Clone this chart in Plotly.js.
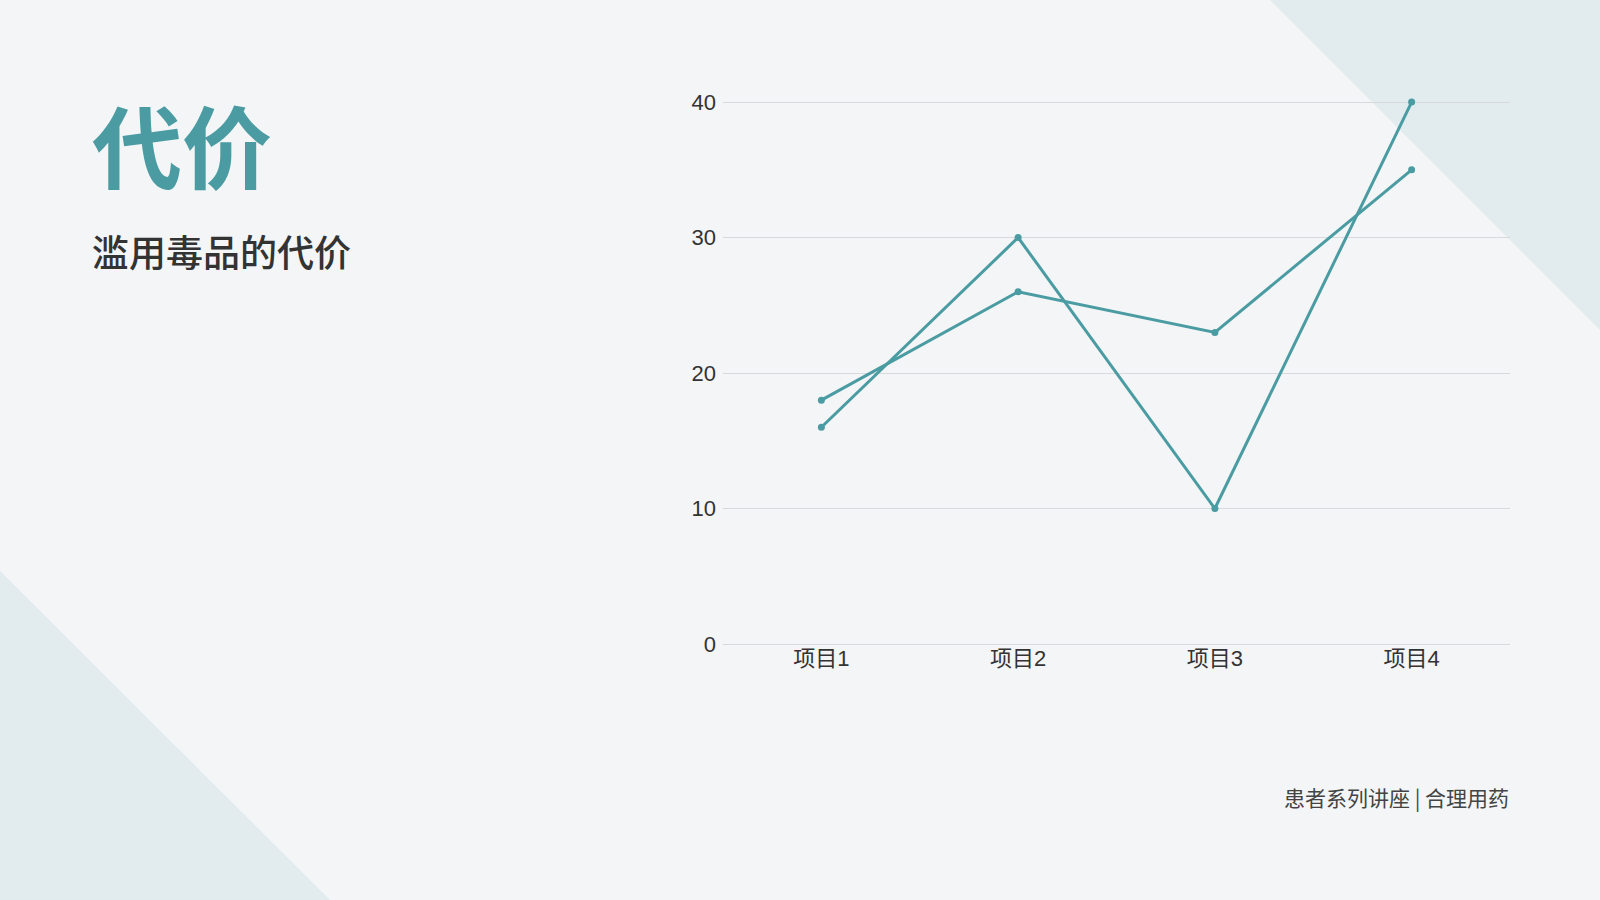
<!DOCTYPE html>
<html>
<head>
<meta charset="utf-8">
<script src="https://cdn.plot.ly/plotly-3.0.1.min.js"></script>
<style>
html,body{margin:0;padding:0;background:#F3F5F7;}
#chart{width:1600px;height:900px;}
</style>
</head>
<body>
<div id="chart"></div>
<script>
// ---- data ----
const categories = ["项目1", "项目2", "项目3", "项目4"];
const seriesA = [18, 26, 23, 35];
const seriesB = [16, 30, 10, 40];
const yTicks = [0, 10, 20, 30, 40];
const titleText = "代价";
const subtitleText = "滥用毒品的代价";
const footerText = "患者系列讲座 | 合理用药";

// ---- layout helpers (pixel -> paper) ----
const W = 1600, H = 900;
const L = 723, R = 1510, T = 75, B = 644;
const fx = px => (px - L) / (R - L);
const fy = py => (B - py) / (B - T);

const teal = "#4A9CA2";
const tri = "#E2ECEE";

function triPath(pts) {
  return "M" + pts.map(p => fx(p[0]) + "," + fy(p[1])).join(" L") + " Z";
}

const lineStyle = {color: teal, width: 3};
const markerStyle = {color: teal, size: 7};

const traces = [
  {x: categories, y: seriesA, type: "scatter", mode: "lines+markers",
   line: lineStyle, marker: markerStyle, cliponaxis: false, hoverinfo: "skip"},
  {x: categories, y: seriesB, type: "scatter", mode: "lines+markers",
   line: lineStyle, marker: markerStyle, cliponaxis: false, hoverinfo: "skip"}
];

const layout = {
  width: W, height: H,
  margin: {l: L, r: W - R, t: T, b: H - B, pad: 0},
  paper_bgcolor: "#F3F5F7",
  plot_bgcolor: "rgba(0,0,0,0)",
  showlegend: false,
  font: {family: "'Liberation Sans', 'Noto Sans CJK SC', sans-serif", color: "#333333", size: 22},
  xaxis: {
    type: "category", range: [-0.5, 3.5],
    showgrid: false, zeroline: false, showline: false,
    ticks: "", ticklen: 0, ticklabelstandoff: -1,
    tickfont: {size: 22, color: "#333333"}, fixedrange: true
  },
  yaxis: {
    range: [0, 42], tickvals: yTicks,
    showgrid: true, gridcolor: "#D7D9DC", gridwidth: 1,
    zeroline: true, zerolinecolor: "#D7D9DC", zerolinewidth: 1,
    showline: false, ticks: "",
    tickfont: {size: 22, color: "#333333"}, ticklabelstandoff: 6, fixedrange: true
  },
  shapes: [
    {type: "path", xref: "paper", yref: "paper", layer: "below",
     path: triPath([[1270, 0], [1600, 0], [1600, 330]]),
     fillcolor: tri, line: {width: 0}},
    {type: "path", xref: "paper", yref: "paper", layer: "below",
     path: triPath([[0, 571], [0, 900], [330, 900]]),
     fillcolor: tri, line: {width: 0}}
  ],
  annotations: [
    {text: "<b>" + titleText + "</b>", xref: "paper", yref: "paper",
     x: fx(90), y: fy(143), xanchor: "left", yanchor: "middle", showarrow: false,
     font: {family: "'Noto Sans CJK SC', sans-serif", size: 90, color: teal}},
    {text: subtitleText, xref: "paper", yref: "paper",
     x: fx(90), y: fy(251), xanchor: "left", yanchor: "middle", showarrow: false,
     font: {family: "'Noto Sans CJK SC', sans-serif", size: 37, weight: 500, color: "#333333"}},
    {text: footerText, xref: "paper", yref: "paper",
     x: fx(1511), y: fy(797), xanchor: "right", yanchor: "middle", showarrow: false,
     font: {family: "'Noto Sans CJK SC', sans-serif", size: 21, color: "#444444"}}
  ]
};

Plotly.newPlot("chart", traces, layout, {displayModeBar: false, staticPlot: true});
</script>
</body>
</html>
